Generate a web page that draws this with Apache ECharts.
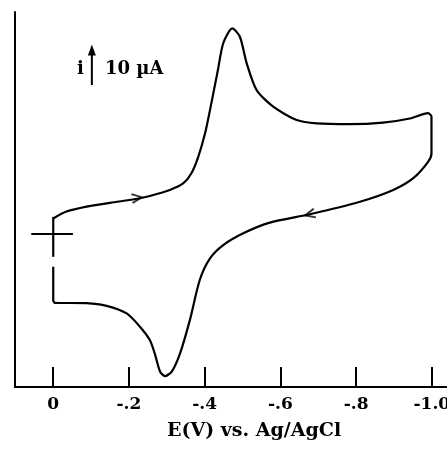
<!DOCTYPE html>
<html>
<head>
<meta charset="utf-8">
<script src="https://cdn.jsdelivr.net/npm/echarts@6/dist/echarts.min.js"></script>
<style>
  html, body { margin: 0; padding: 0; background: #fff; }
  #cv-chart { width: 447px; height: 449px; }
</style>
</head>
<body>
<div id="cv-chart"></div>
<script>
// potential (V vs Ag/AgCl) and current (uA)
const scanE = [
  0, -0.035, -0.088, -0.150, -0.229, -0.255, -0.308, -0.343, -0.365, -0.383,
  -0.401, -0.414, -0.435, -0.449, -0.473, -0.493, -0.511, -0.537, -0.581, -0.643,
  -0.696, -0.783, -0.871, -0.942, -0.990, -0.999, -0.999, -0.990, -0.951, -0.898,
  -0.810, -0.678, -0.572, -0.502, -0.449, -0.414, -0.387, -0.361, -0.335, -0.313,
  -0.295, -0.282, -0.268, -0.255, -0.229, -0.194, -0.141, -0.088, -0.004, 0, 0
];
const scanI = [
  4.1, 5.9, 7.2, 8.2, 9.4, 10.0, 11.6, 13.3, 16.0, 20.3,
  26.5, 32.6, 43.2, 50.2, 54.1, 51.9, 44.9, 37.9, 33.5, 30.0,
  29.1, 28.9, 29.3, 30.4, 31.8, 30.9, 21.2, 19.0, 14.7, 11.6,
  8.5, 5.2, 3.0, 0.2, -2.9, -6.4, -12.1, -22.6, -31.4, -36.2,
  -37.4, -36.2, -31.4, -27.9, -24.4, -20.9, -18.9, -18.2, -18.1, -17.4, -8.6
];

// scan direction arrows: [E, i, rotation]
const arrowMarks = [[-0.221, 9.5, 8], [-0.678, 5.2, 194]];

// reference cross at E = 0, i = 0
const crossH = [[0.058, 0], [-0.052, 0]];
const crossV = [[0, 4.5], [0, -6.0]];

// 10 uA scale bar
const scaleBar = [[-0.102, 39.2], [-0.102, 48.4]];

const tickValues = [0, -0.2, -0.4, -0.6, -0.8, -1.0];
const tickText = ['0', '-.2', '-.4', '-.6', '-.8', '-1.0'];

const curve = scanE.map((e, k) => [e, scanI[k]]);

const mychart = echarts.init(document.getElementById('cv-chart'));
const serif = 'DejaVu Serif';
const option = {
  animation: false,
  backgroundColor: '#fff',
  grid: { left: 15, right: 0, top: 12, bottom: 62, containLabel: false, outerBoundsMode: 'none' },
  xAxis: {
    type: 'value',
    inverse: true,
    min: -1.04,
    max: 0.101,
    axisLine: { onZero: false, lineStyle: { color: '#000', width: 2 } },
    axisTick: {
      inside: true, length: 20, customValues: tickValues,
      lineStyle: { color: '#000', width: 2 }
    },
    axisLabel: {
      customValues: tickValues,
      margin: 9,
      hideOverlap: false,
      color: '#000',
      fontFamily: serif,
      fontWeight: 'bold',
      fontSize: 17,
      formatter: v => tickText[tickValues.findIndex(t => Math.abs(t - v) < 1e-6)]
    },
    splitLine: { show: false }
  },
  yAxis: {
    type: 'value',
    min: -40.26,
    max: 58.42,
    axisLine: { show: true, onZero: false, lineStyle: { color: '#000', width: 2 } },
    axisTick: { show: false },
    axisLabel: { show: false },
    splitLine: { show: false }
  },
  series: [
    {
      type: 'line',
      data: curve,
      smooth: 0.25,
      showSymbol: false,
      lineStyle: { color: '#000', width: 2.2 }
    },
    {
      type: 'line', data: crossH, showSymbol: false,
      lineStyle: { color: '#000', width: 2.2 }
    },
    {
      type: 'line', data: crossV, showSymbol: false,
      lineStyle: { color: '#000', width: 2.2 }
    },
    {
      type: 'line',
      data: scaleBar,
      symbol: (val, p) => p.dataIndex === 1 ? 'triangle' : 'none',
      symbolSize: [8, 11],
      itemStyle: { color: '#000' },
      lineStyle: { color: '#000', width: 2 }
    },
    {
      type: 'scatter',
      data: arrowMarks.map(a => [a[0], a[1]]),
      symbol: 'path://M0,0L10,5L0,10',
      symbolSize: [10, 9],
      symbolRotate: (val, p) => arrowMarks[p.dataIndex][2],
      itemStyle: { color: 'rgba(0,0,0,0)', borderColor: '#000', borderWidth: 2 }
    }
  ],
  graphic: [
    {
      type: 'text', left: 77, top: 60,
      style: { text: 'i', fill: '#000', font: 'bold 18px "DejaVu Serif"' }
    },
    {
      type: 'text', left: 105, top: 60,
      style: { text: '10 µA', fill: '#000', font: 'bold 18px "DejaVu Serif"' }
    },
    {
      type: 'text', left: 167, top: 422,
      style: { text: 'E(V) vs. Ag/AgCl', fill: '#000', font: 'bold 19px "DejaVu Serif"' }
    }
  ]
};

mychart.setOption(option);
window.onresize = mychart.resize;
</script>
</body>
</html>
